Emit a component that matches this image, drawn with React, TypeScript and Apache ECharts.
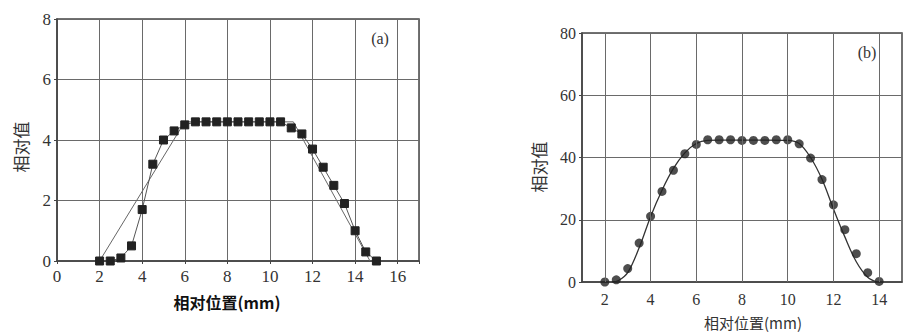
import React, { useEffect, useRef } from "react";
import * as echarts from "echarts";

// Panel (a): measured squares
const posA = [2, 2.5, 3, 3.5, 4, 4.5, 5, 5.5, 6, 6.5, 7, 7.5, 8, 8.5, 9, 9.5, 10, 10.5, 11, 11.5, 12, 12.5, 13, 13.5, 14, 14.5, 15];
const valA = [0, 0, 0.1, 0.5, 1.7, 3.2, 4.0, 4.3, 4.5, 4.6, 4.6, 4.6, 4.6, 4.6, 4.6, 4.6, 4.6, 4.6, 4.4, 4.2, 3.7, 3.1, 2.5, 1.9, 1.0, 0.3, 0];
// Panel (a): trapezoid reference line
const trapX = [2, 6, 11.1, 14.7];
const trapY = [0, 4.6, 4.6, 0];

// Panel (b): measured circles
const posB = [2, 2.5, 3, 3.5, 4, 4.5, 5, 5.5, 6, 6.5, 7, 7.5, 8, 8.5, 9, 9.5, 10, 10.5, 11, 11.5, 12, 12.5, 13, 13.5, 14];
const valB = [0, 0.7, 4.3, 12.5, 21.1, 29.1, 35.9, 41.2, 44.2, 45.7, 45.7, 45.7, 45.5, 45.5, 45.5, 45.7, 45.7, 44.4, 39.8, 32.9, 24.8, 16.8, 9.1, 3.0, 0.2];
// Panel (b): fitted curve
const curveX = [2.3, 2.6, 3, 3.5, 4, 4.5, 5, 5.5, 6, 6.5, 7, 8, 9, 10, 10.5, 11, 11.5, 12, 12.5, 13, 13.5, 13.9];
const curveY = [0, 0.5, 3, 11, 21, 29.5, 36.5, 41.5, 44.5, 45.5, 45.6, 45.6, 45.6, 45.5, 44.5, 40, 33, 23.5, 14.5, 6.5, 1.5, 0];

const xTicksA = [0, 2, 4, 6, 8, 10, 12, 14, 16];
const yTicksA = [0, 2, 4, 6, 8];
const xTicksB = [2, 4, 6, 8, 10, 12, 14];
const yTicksB = [0, 20, 40, 60, 80];

const FONT = "Liberation Serif";
const CJK = "Noto Sans CJK SC";
const GRID = "#6a6a6a";

export default function App() {
  const ref = useRef<HTMLDivElement>(null);
  useEffect(() => {
    if (!ref.current) return;
    const chart = echarts.init(ref.current, undefined, { renderer: "svg" });
    const axisCommon = {
      axisLine: { show: true, lineStyle: { color: "#444", width: 1.5 } },
      axisTick: { show: true, length: 3, lineStyle: { color: "#444" } },
      splitLine: { show: true, lineStyle: { color: GRID, width: 1 } },
      axisLabel: { color: "#333", fontFamily: FONT },
    };
    chart.setOption({
      animation: false,
      backgroundColor: "#fff",
      grid: [
        { left: 57, top: 19, width: 362, height: 242, show: true, borderColor: "#444", borderWidth: 1.5, backgroundColor: "transparent" },
        { left: 582, top: 33, width: 330, height: 249, show: true, borderColor: "#444", borderWidth: 1.5, backgroundColor: "transparent" },
      ],
      xAxis: [
        {
          ...axisCommon, gridIndex: 0, type: "value", min: 0, max: 17, interval: 2,
          axisLabel: { ...axisCommon.axisLabel, fontSize: 17, margin: 7,
            formatter: (v: number) => (xTicksA.includes(v) ? String(v) : "") },
        },
        {
          ...axisCommon, gridIndex: 1, type: "value", min: 1, max: 15, interval: 1,
          axisTick: { show: false },
          splitLine: { show: false },
          axisLabel: { ...axisCommon.axisLabel, fontSize: 16, margin: 9,
            formatter: (v: number) => (xTicksB.includes(v) ? String(v) : "") },
        },
      ],
      yAxis: [
        {
          ...axisCommon, gridIndex: 0, type: "value", min: 0, max: 8, interval: 2,
          axisLabel: { ...axisCommon.axisLabel, fontSize: 17, margin: 6,
            formatter: (v: number) => (yTicksA.includes(v) ? String(v) : "") },
        },
        {
          ...axisCommon, gridIndex: 1, type: "value", min: 0, max: 80, interval: 20,
          axisLabel: { ...axisCommon.axisLabel, fontSize: 16, margin: 6,
            formatter: (v: number) => (yTicksB.includes(v) ? String(v) : "") },
        },
      ],
      series: [
        {
          type: "line", xAxisIndex: 0, yAxisIndex: 0, symbol: "none",
          data: trapX.map((x, i) => [x, trapY[i]]),
          lineStyle: { color: "#666", width: 1 },
        },
        {
          type: "line", xAxisIndex: 0, yAxisIndex: 0, symbol: "rect", symbolSize: 8,
          data: posA.map((x, i) => [x, valA[i]]),
          lineStyle: { color: "#555", width: 1 },
          itemStyle: { color: "#222", borderColor: "#222" },
        },
        {
          type: "line", xAxisIndex: 1, yAxisIndex: 1, symbol: "none", smooth: 0.35,
          data: curveX.map((x, i) => [x, curveY[i]]),
          lineStyle: { color: "#333", width: 1.3 },
          markLine: {
            silent: true, symbol: "none", label: { show: false },
            lineStyle: { color: GRID, width: 1, type: "solid" },
            data: xTicksB.map((v) => ({ xAxis: v })),
          },
          z: 3,
        },
        {
          type: "scatter", xAxisIndex: 1, yAxisIndex: 1, symbol: "circle", symbolSize: 9,
          data: posB.map((x, i) => [x, valB[i]]),
          itemStyle: { color: "#222" },
          z: 4,
        },
      ],
      graphic: [
        { type: "text", x: 20, y: 147, rotation: Math.PI / 2, style: { text: "相对值", font: `17px "${CJK}"`, fill: "#333", align: "center", verticalAlign: "middle" } },
        { type: "text", x: 227, y: 302, style: { text: "相对位置(mm)", font: `bold 16px "${CJK}"`, fill: "#111", align: "center", verticalAlign: "middle" } },
        { type: "text", x: 380, y: 38, style: { text: "(a)", font: `16px "${FONT}"`, fill: "#333", align: "center", verticalAlign: "middle" } },
        { type: "text", x: 538, y: 167, rotation: Math.PI / 2, style: { text: "相对值", font: `17px "${CJK}"`, fill: "#333", align: "center", verticalAlign: "middle" } },
        { type: "text", x: 753, y: 322, style: { text: "相对位置(mm)", font: `15px "${CJK}"`, fill: "#333", align: "center", verticalAlign: "middle" } },
        { type: "text", x: 867, y: 52, style: { text: "(b)", font: `16px "${FONT}"`, fill: "#333", align: "center", verticalAlign: "middle" } },
      ],
    });
    return () => chart.dispose();
  }, []);
  return <div ref={ref} style={{ position: "absolute", left: 0, top: 0, width: 905, height: 332 }} />;
}
